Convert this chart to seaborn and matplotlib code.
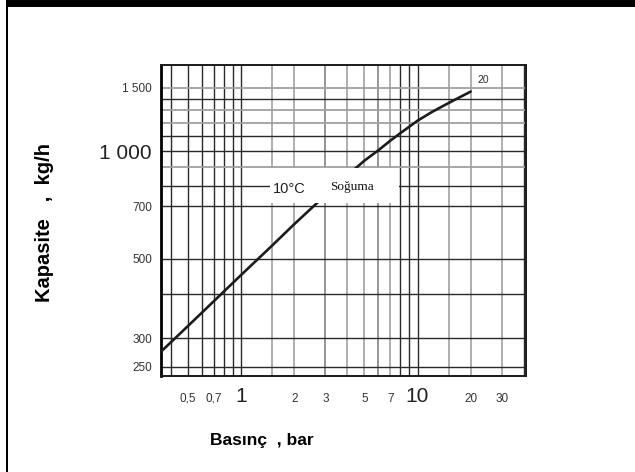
import matplotlib
matplotlib.use("Agg")
import matplotlib.pyplot as plt
from matplotlib.patches import Rectangle
from matplotlib.ticker import NullLocator
import pandas as pd
import seaborn as sns

# Capacity curve at 10 °C cooling
pressure_bar = [0.35, 0.5, 0.7, 1, 1.5, 2, 3, 4, 5, 6, 7, 8, 10, 12, 14, 16, 18, 20]
capacity_kgh = [275, 325, 381, 451, 545, 625, 752, 855, 940, 1005, 1068, 1122,
                1215, 1283, 1337, 1384, 1426, 1465]

x_ticks = [0.5, 0.7, 1, 2, 3, 5, 7, 10, 20, 30]
x_tick_labels = ["0,5", "0,7", "1", "2", "3", "5", "7", "10", "20", "30"]
y_ticks = [250, 300, 500, 700, 1000, 1500]
y_tick_labels = ["250", "300", "500", "700", "1 000", "1 500"]
big_labels = ["1", "10", "1 000"]

# chart-paper grid
x_grid_dark = [0.4, 0.5, 0.6, 0.7, 0.8, 0.9, 1, 8, 9, 10, 40]
x_grid_mid = [3, 6]
x_grid_light = [1.5, 2, 4, 5, 7, 15, 20, 30]
y_grid_dark = [250, 300, 400, 500, 700, 800, 1000, 1100, 1400]
y_grid_light = [900, 1200, 1300, 1500]

sns.set_theme(style="white")
plt.rcParams["font.family"] = ["Liberation Sans", "DejaVu Sans"]

W, H = 635, 472
fig = plt.figure(figsize=(W / 100, H / 100), dpi=100)
fig.patch.set_facecolor("white")

# page frame: heavy top rule and thin left rule
fig.patches.append(Rectangle((6 / W, 0), 2.2 / W, 1, transform=fig.transFigure,
                             facecolor="black", edgecolor="none", zorder=10))
fig.patches.append(Rectangle((6 / W, 1 - 6.5 / H), 1 - 6 / W, 6.5 / H,
                             transform=fig.transFigure, facecolor="black",
                             edgecolor="none", zorder=10))

left, right, top, bottom = 161, 526, 65, 376
ax = fig.add_axes([left / W, 1 - bottom / H, (right - left) / W, (bottom - top) / H])
ax.set_xscale("log")
ax.set_yscale("log")
ax.set_xlim(0.351, 41.2)
ax.set_ylim(235.5, 1738)

for v in x_grid_dark:
    ax.axvline(v, color="#2a2a2a", lw=1.0, zorder=1)
for v in x_grid_mid:
    ax.axvline(v, color="#777777", lw=1.1, zorder=1)
for v in x_grid_light:
    ax.axvline(v, color="#a8a8a8", lw=1.3, zorder=1)
for v in y_grid_dark:
    ax.axhline(v, color="#2a2a2a", lw=1.0, zorder=1)
for v in y_grid_light:
    ax.axhline(v, color="#a0a0a0", lw=1.3, zorder=1)

df = pd.DataFrame({"pressure": pressure_bar, "capacity": capacity_kgh})
sns.lineplot(data=df, x="pressure", y="capacity", color="#1c1c1c", lw=1.9,
             ax=ax, zorder=3)

# label plate over the curve
ax.add_patch(Rectangle((1.45, 715), 7.85 - 1.45, 897 - 715, facecolor="white",
                       edgecolor="none", zorder=4))
ax.text(1.88, 783, "10°C", fontsize=10.5, color="#222222", ha="center",
        va="center", zorder=5)
ax.text(4.23, 795, "Soğuma", fontsize=9.5, color="#111111", ha="center",
        va="center", family=["Liberation Serif", "DejaVu Serif"], zorder=5)
ax.text(23.6, 1578, "20", fontsize=7.5, color="#333333", ha="center",
        va="center", zorder=5)

ax.set_xticks(x_ticks)
ax.set_xticklabels(x_tick_labels)
ax.set_yticks(y_ticks)
ax.set_yticklabels(y_tick_labels)
ax.xaxis.set_minor_locator(NullLocator())
ax.yaxis.set_minor_locator(NullLocator())
ax.tick_params(axis="x", length=0, pad=18.5)
ax.tick_params(axis="y", length=0, pad=6.5)
for lbl in ax.get_xticklabels():
    lbl.set_va("baseline")
for lbl in ax.get_xticklabels() + ax.get_yticklabels():
    lbl.set_color("#333333")
    if lbl.get_text() in big_labels:
        lbl.set_fontsize(15)
        lbl.set_color("#222222")
    else:
        lbl.set_fontsize(8.5)

ax.set_xlabel("Basınç  , bar", fontsize=12.5, fontweight="bold", color="black",
              va="center", ha="center")
ax.set_ylabel("Kapasite   ,  kg/h", fontsize=14.5, fontweight="bold",
              color="black", va="center", ha="center")
ax.xaxis.set_label_coords((262 - left) / (right - left), (bottom - 440) / (bottom - top))
ax.yaxis.set_label_coords((44 - left) / (right - left), (bottom - 223) / (bottom - top))

for side in ["left", "right", "top", "bottom"]:
    ax.spines[side].set_visible(True)
    ax.spines[side].set_color("#1a1a1a")
    ax.spines[side].set_linewidth(1.4)
    ax.spines[side].set_zorder(2)
ax.spines["left"].set_linewidth(2.0)
ax.spines["left"].set_color("black")

fig.savefig("out.png", dpi=100)
